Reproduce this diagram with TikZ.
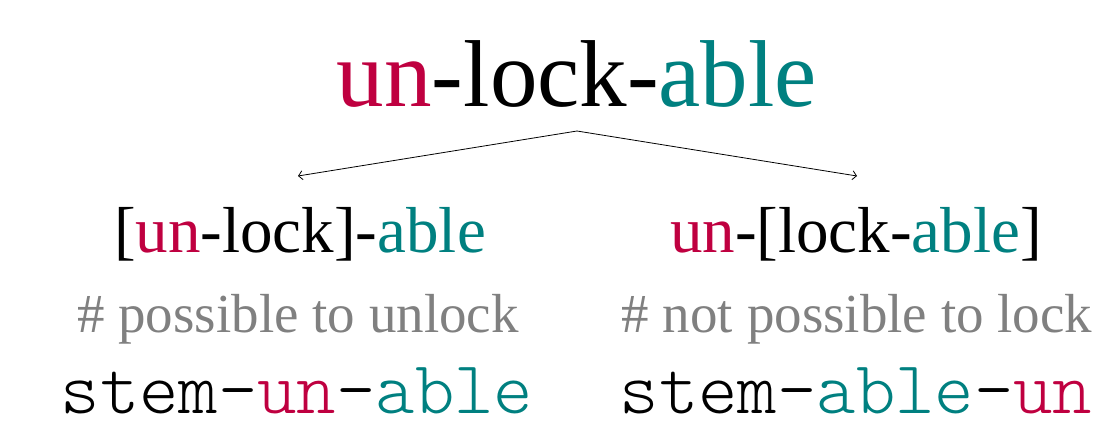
\documentclass[tikz,border=0pt]{standalone}
\usepackage{fontspec}
\setmainfont{Liberation Serif}
\newfontfamily\codefont{Latin Modern Mono Light}
\usetikzlibrary{arrows.meta}
\definecolor{pfxcol}{RGB}{191,0,64}
\definecolor{sfxcol}{RGB}{0,128,128}
\newcommand{\pfx}[1]{\textcolor{pfxcol}{#1}}
\newcommand{\sfx}[1]{\textcolor{sfxcol}{#1}}

\begin{document}
\begin{tikzpicture}[x=1pt,y=-1pt,
	word/.style={inner sep=0pt,anchor=base,font=\fontsize{95}{100}\selectfont},
	parse/.style={inner sep=0pt,anchor=base,font=\fontsize{65}{70}\selectfont},
	gloss/.style={inner sep=0pt,anchor=base,text=gray,font=\fontsize{55}{60}\selectfont},
	code/.style={inner sep=0pt,anchor=base,font=\codefont\fontsize{75}{78}\selectfont},
	branch/.style={-{Straight Barb[length=4pt,width=9pt]},line width=0.8pt}]
		\useasboundingbox (0,0) rectangle (1096,421);

		\node[word] (whole) at (577,106) {\pfx{un}-lock-\sfx{able}};

		\node[parse] (left) at (300,252) {[\pfx{un}-lock]-\sfx{able}};
		\node[parse] (right) at (856,252) {\pfx{un}-[lock-\sfx{able}]};

		\node[gloss] (leftgloss) at (298,332) {\# possible to unlock};
		\node[gloss] (rightgloss) at (857,332) {\# not possible to lock};

		\node[code] (leftcode) at (297,413) {stem-\pfx{un}-\sfx{able}};
		\node[code] (rightcode) at (856,413) {stem-\sfx{able}-\pfx{un}};

		\coordinate (fork) at ([yshift=-25pt]whole.base);
		\coordinate (lefttip) at (298,176);
		\coordinate (righttip) at (857,176);
		\draw [branch] (fork) -- (lefttip);
		\draw [branch] (fork) -- (righttip);
	\end{tikzpicture}
\end{document}
